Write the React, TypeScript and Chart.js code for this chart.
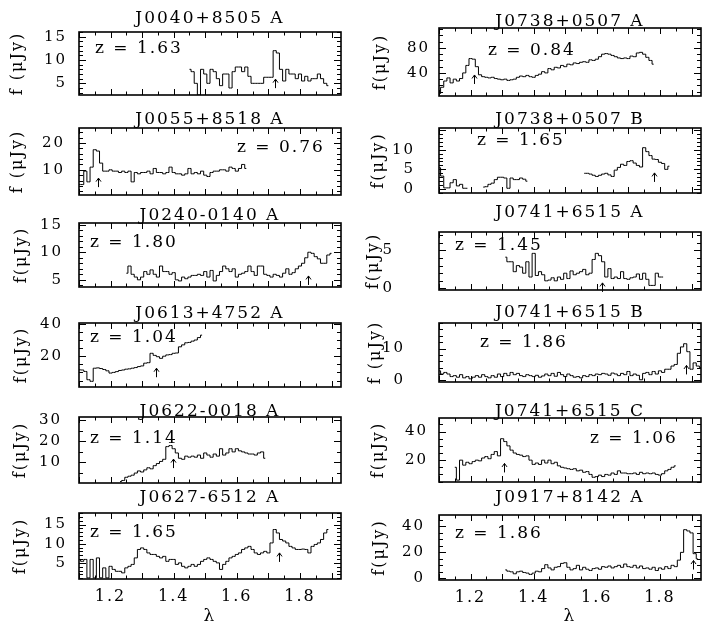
import { useEffect, useRef } from "react";
import { Chart, registerables } from "chart.js";
Chart.register(...registerables);

// ---------------- data ----------------
const objectNames = [
  "J0040+8505 A", "J0738+0507 A",
  "J0055+8518 A", "J0738+0507 B",
  "J0240-0140 A", "J0741+6515 A",
  "J0613+4752 A", "J0741+6515 B",
  "J0622-0018 A", "J0741+6515 C",
  "J0627-6512 A", "J0917+8142 A",
];
const redshifts = ["1.63", "0.84", "0.76", "1.65", "1.80", "1.45", "1.04", "1.86", "1.14", "1.06", "1.65", "1.86"];
const yTitles = ["f (μJy)", "f(μJy)", "f (μJy)", "f(μJy)", "f(μJy)", "f(μJy)", "f(μJy)", "f (μJy)", "f(μJy)", "f(μJy)", "f(μJy)", "f(μJy)"];

// arrow markers (wavelength, flux at arrow tip)
const markerLambda = [1.72, 1.211, 1.159, 1.781, 1.826, 1.616, 1.344, 1.882, 1.399, 1.306, 1.735, 1.904];
const markerFlux = [5.9, 36.7, 6.9, 4.1, 5.7, 0.73, 12.6, 4.7, 11.6, 17.7, 7.6, 13.7];

// spectra: first bin wavelength and bin width
const specStart = [1.45, 1.10, 1.10, 1.10, 1.25, 1.31, 1.10, 1.10, 1.23, 1.15, 1.10, 1.31];
const binWidth = 0.01;

const flux_J0040 = [8, 7.5, 5, 2.5, 8, 7, 5, 8, 7.5, 6, 4.5, 7, 7, 4, 7.5, 8.5, 8.5, 7.5, 8.5, 6.5, 5, 5, 5, 5, 6.3, 6.3, 6.3, 12, 11.5, 8, 5.5, 8, 7, 7, 6, 7, 5.5, 6.5, 5.5, 6, 6, 7, 6, 5, 4.5];
const flux_J0738A = [7, 17, 27, 32, 24, 30, 27, 31, 40, 52, 63, 62, 50, 37, 34, 33, 32, 33, 31, 30, 29, 30, 28, 29, 30, 33, 35, 34, 36, 34, 33, 36, 38, 42, 40, 47, 45, 49, 48, 52, 50, 54, 53, 56, 55, 57, 58, 57, 61, 60, 62, 66, 70, 71, 70, 68, 66, 64, 63, 64, 63, 67, 66, 72, 73, 70, 65, 60, 54];
const flux_J0055 = [4.5, 4.5, 9.5, 5.5, 11, 17.5, 17, 12.5, 9.5, 9.5, 10, 9.5, 9.5, 9, 9.5, 9, 9.5, 5.5, 9, 8.5, 9, 9, 9.5, 8.5, 10.5, 9, 9, 8.5, 9, 11, 9, 8.5, 8.5, 8, 8.5, 10.5, 8.5, 9, 8.5, 9.5, 8, 7.5, 9, 9.5, 9.5, 10, 10, 9.5, 11, 10.5, 9.5, 10.5, 12, 10.5];
const flux_J0738B = [5.4, 3.3, 0.3, 0.3, 1.6, 2.4, 0.8, 1.2, 0.2, 0.2, null, null, null, null, 0.5, 0.6, 1.2, 1.5, 2.4, 3.0, 3.0, 2.8, 0.2, 2.8, 2.4, 2.4, 2.8, 2.5, 2.0, null, null, null, null, null, null, null, null, null, null, null, null, null, null, null, null, null, 4.0, 4.0, 3.8, 3.5, 3.2, 3.5, 3.8, 4.0, 3.6, 3.2, 4.8, 5.5, 6.3, 6.0, 7.0, 7.2, 6.6, 6.0, 5.6, 10.5, 9.5, 8.5, 7.6, 7.5, 6.8, 6.5, 5.0, 5.8];
const flux_J0240 = [6.2, 7.5, 6.0, 5.5, 5.0, 5.5, 6.5, 6.0, 6.8, 6.0, 5.5, 7.5, 6.5, 6.5, 6.0, 6.3, 5.0, 4.8, 5.5, 5.2, 5.5, 5.8, 5.8, 6.0, 5.8, 6.5, 5.5, 6.7, 4.8, 5.8, 6.5, 7.5, 7.0, 6.5, 7.0, 5.5, 6.0, 6.2, 6.5, 7.5, 6.5, 5.8, 7.5, 7.5, 6.0, 5.8, 5.5, 6.0, 5.8, 5.5, 6.2, 7.0, 6.0, 6.3, 7.0, 7.5, 8.0, 9.0, 10.0, 9.8, 9.2, 8.8, 8.0, 8.0, 9.5, 9.8];
const flux_J0741A = [4.1, 3.5, 3.5, 2.2, 3.0, 2.8, 2.0, 3.5, 1.5, 4.6, 1.7, 2.2, 1.8, 1.0, 1.1, 1.4, 1.0, 1.5, 1.2, 2.0, 1.3, 2.3, 1.8, 2.0, 2.2, 2.5, 1.8, 2.0, 3.8, 4.6, 4.3, 3.5, 1.5, 2.6, 1.3, 1.5, 1.3, 2.2, 1.3, 1.2, 1.4, 1.5, 1.9, 1.2, 2.0, 1.2, 0.4, 0.4, 2.0, 1.5, 1.5];
const flux_J0613 = [11.6, 11.5, 10.6, 5.5, 4.5, 12.6, 12.8, 12.4, 11.8, 11, 9.6, 10, 10.5, 11.2, 11.5, 12, 12.2, 12.6, 13, 13.6, 14, 15.7, 16, 21.8, 20.5, 19.7, 18.7, 20, 20.8, 21, 21.8, 22, 25.8, 27, 28.3, 28.5, 29.3, 30, 31.5, 33];
const flux_J0741B = [3.0, 2.0, 2.5, 2.0, 1.2, 1.5, 1.0, 1.8, 0.8, 1.2, 0.5, 1.0, 1.5, 1.0, 1.8, 1.2, 0.8, 1.5, 1.0, 2.0, 1.2, 2.2, 1.5, 2.5, 1.8, 2.2, 1.5, 1.2, 1.8, 1.5, 1.2, 1.6, 1.0, 1.4, 2.0, 1.5, 2.2, 1.3, 2.5, 1.8, 1.2, 2.0, 1.5, 1.0, 1.2, 0.8, 1.5, 1.2, 1.8, 1.5, 2.0, 1.8, 2.2, 2.0, 1.6, 2.3, 2.0, 1.5, 2.2, 1.8, 2.8, 1.5, 2.0, 1.6, 0.2, 2.2, 2.5, 1.8, 2.8, 2.0, 3.0, 2.5, 3.5, 3.5, 4.5, 5.0, 8.5, 10.5, 11.5, 9.0, 3.5, 5.5, 4.5, 4.0];
const flux_J0622 = [1.0, 1.5, 3.0, 3.5, 4.0, 5.0, 6.0, 5.5, 6.5, 7.5, 7.0, 8.5, 9.5, 10.5, 11.5, 17.5, 18.0, 16.5, 14.5, 12.0, 11.5, 13.0, 12.5, 13.0, 12.5, 13.5, 12.0, 14.5, 13.5, 12.5, 14.0, 13.0, 16.5, 13.5, 14.5, 16.5, 15.0, 16.5, 15.5, 15.0, 14.5, 14.0, 14.0, 13.5, 14.5, 15.0, 12.0];
const flux_J0741C = [15, 6, 20, 16.5, 18.5, 17.5, 19, 20, 19.5, 21.5, 22.5, 21, 24, 26, 23, 35, 33, 30, 27, 25, 24, 23.5, 22.5, 23, 20, 17, 18, 17, 20, 18, 20, 17.5, 18.5, 16, 15, 14.5, 14, 13.5, 14, 12.5, 13, 11.5, 12, 10, 8, 8.5, 9.5, 8.5, 10, 9.5, 11, 10, 12.5, 11, 11, 10.5, 10.5, 11, 10, 11.5, 10.5, 11, 10.5, 11, 10, 9.5, 10.5, 12.5, 13.5, 15, 16];
const flux_J0627 = [5.9, 5.4, 5.9, 1.1, 5.9, 1.1, 6.3, 1.1, 3.7, 1.1, 4.1, 3.3, 2.8, 2.8, 2.4, 3.7, 4.1, 4.6, 6.3, 8.5, 8.9, 8.5, 7.6, 7.2, 7.2, 6.7, 6.3, 6.7, 5.4, 5.9, 5.9, 4.6, 5.0, 4.1, 3.7, 4.1, 4.6, 4.1, 4.6, 5.4, 5.9, 6.3, 5.9, 5.4, 5.0, 3.3, 4.6, 5.4, 6.3, 6.7, 7.2, 7.6, 8.5, 8.9, 9.3, 8.5, 7.6, 7.2, 7.6, 8.0, 7.6, 10.2, 13.7, 12.8, 11.1, 10.7, 10.2, 9.3, 8.9, 8.5, 8.5, 8.6, 8.5, 7.6, 9.3, 9.8, 10.2, 11.1, 12.8, 13.7];
const flux_J0917 = [6.5, 5.5, 5.0, 3.5, 5.0, 5.5, 4.5, 4.0, 3.0, 4.0, 5.5, 5.0, 7.5, 10.5, 8.0, 6.5, 8.5, 9.0, 11.5, 12.0, 8.5, 6.5, 7.5, 10.0, 6.5, 8.5, 7.0, 6.0, 7.5, 8.0, 7.0, 9.0, 8.5, 9.5, 8.0, 9.0, 10.0, 8.5, 11.0, 9.0, 8.5, 10.0, 8.0, 9.5, 7.5, 8.0, 7.0, 8.5, 6.0, 8.0, 7.0, 9.0, 7.5, 10.0, 9.0, 14.0, 20.0, 37.5, 36.5, 35.0, 19.0, 15.0];

const fluxes: (number | null)[][] = [
  flux_J0040, flux_J0738A, flux_J0055, flux_J0738B, flux_J0240, flux_J0741A,
  flux_J0613, flux_J0741B, flux_J0622, flux_J0741C, flux_J0627, flux_J0917,
];

// axes
const xRange = [1.1, 1.93];
const xTickLabels = [1.2, 1.4, 1.6, 1.8];
const xMinorStep = 0.05;
const xMajorEvery = 2;
const yRanges = [[2.5, 16], [3, 112], [0.6, 25.6], [-1, 15.5], [3.7, 15.3], [-0.2, 7.4], [1, 40.5], [-0.5, 18], [0.3, 31.5], [4.7, 49.5], [0.8, 18], [-1.3, 48.8]];
const yTickLabels = [[5, 10, 15], [40, 80], [10, 20], [0, 5, 10], [5, 10, 15], [0, 5], [20, 40], [0, 10], [10, 20, 30], [20, 40], [5, 10, 15], [0, 20, 40]];
const yMinorStep = [1, 10, 2, 1, 1, 1, 5, 2, 5, 5, 1, 5];
const yMajorStep = [5, 40, 10, 5, 5, 5, 20, 10, 10, 20, 5, 20];

// ---------------- layout / style ----------------
const FONT = "'DejaVu Serif', 'Liberation Serif', serif";
const INK = "#000";
const SPACING = "2px";
const COLS = [
  { left: 0, width: 350, frameLeft: 79, frameRight: 341 },
  { left: 350, width: 353, frameLeft: 439, frameRight: 701 },
];
// titleC, frameTop, frameBottom, zDx, zDy, yTickPad, yTitleC
const LAYOUT = [
  [18.5, 32, 95, 16, 21, 12, 17.5],
  [21.5, 28, 96, 49, 27, 9, 380.5],
  [119, 128, 195, 158, 24, 14, 17.5],
  [119, 128, 193, 38, 17, 24, 379],
  [215, 223, 287, 11, 24, 16, 22],
  [212, 232, 290, 16, 18, 45, 374],
  [313, 323, 387, 11, 19, 16, 22],
  [312.5, 323, 382, 41, 24, 34, 376],
  [411, 417, 483, 11, 26, 17, 21],
  [411, 418, 482, 151, 25, 11, 379],
  [497, 513, 579, 11, 24, 12, 21],
  [497, 515, 580, 16, 23, 14, 380],
];
const TITLE_SIZE = 17;
const PAGE_BOTTOM = 630;

function Panel({ i }: { i: number }) {
  const ref = useRef<HTMLCanvasElement>(null);
  const col = COLS[i % 2];
  const [titleC, frameTop, frameBottom, zDx, zDy, yTickPad, yTitleC] = LAYOUT[i];
  const isBottom = i >= 10;
  const canvasTop = Math.round(titleC - TITLE_SIZE / 2);
  const canvasBottom = isBottom ? PAGE_BOTTOM : frameBottom + 4;
  const height = canvasBottom - canvasTop;

  useEffect(() => {
    const pts = fluxes[i].map((v, k) => ({ x: +(specStart[i] + k * binWidth).toFixed(3), y: v }));
    const [ymin, ymax] = yRanges[i];
    const pgPlugin = {
      id: "pgframe",
      beforeDraw(chart: any) {
        chart.ctx.letterSpacing = SPACING;
      },
      afterDraw(chart: any) {
        const { ctx, chartArea: a, scales } = chart;
        const xs = scales.x, ys = scales.y;
        ctx.save();
        ctx.letterSpacing = SPACING;
        ctx.strokeStyle = INK;
        ctx.lineWidth = 1.6;
        ctx.strokeRect(a.left, a.top, a.right - a.left, a.bottom - a.top);
        ctx.lineWidth = 1;
        ctx.beginPath();
        for (let k = Math.ceil(xRange[0] / xMinorStep - 1e-6); k * xMinorStep <= xRange[1] + 1e-6; k++) {
          const px = Math.round(xs.getPixelForValue(k * xMinorStep)) + 0.5;
          const len = k % xMajorEvery === 0 ? 6 : 3.5;
          ctx.moveTo(px, a.bottom);
          ctx.lineTo(px, a.bottom - len);
          ctx.moveTo(px, a.top);
          ctx.lineTo(px, a.top + len);
        }
        const m = yMinorStep[i];
        const r = Math.round(yMajorStep[i] / m);
        for (let k = Math.ceil(ymin / m - 1e-6); k * m <= ymax + 1e-6; k++) {
          const py = Math.round(ys.getPixelForValue(k * m)) + 0.5;
          const len = ((k % r) + r) % r === 0 ? 7 : 4;
          ctx.moveTo(a.left, py);
          ctx.lineTo(a.left + len, py);
          ctx.moveTo(a.right, py);
          ctx.lineTo(a.right - len, py);
        }
        // arrow marker
        const ax = Math.round(xs.getPixelForValue(markerLambda[i])) + 0.5;
        const ay = ys.getPixelForValue(markerFlux[i]);
        ctx.moveTo(ax, ay);
        ctx.lineTo(ax, ay + 9);
        ctx.moveTo(ax - 2.5, ay + 3.5);
        ctx.lineTo(ax, ay);
        ctx.lineTo(ax + 2.5, ay + 3.5);
        ctx.stroke();
        // redshift label
        ctx.fillStyle = INK;
        ctx.font = `17px ${FONT}`;
        ctx.textAlign = "left";
        ctx.textBaseline = "alphabetic";
        ctx.fillText(`z = ${redshifts[i]}`, a.left + zDx, a.top + zDy);
        ctx.restore();
      },
    };

    const chart = new Chart(ref.current as HTMLCanvasElement, {
      type: "line",
      data: {
        datasets: [
          {
            data: pts as any,
            borderColor: INK,
            borderWidth: 1,
            pointRadius: 0,
            stepped: "middle",
            spanGaps: false,
            fill: false,
          },
        ],
      },
      options: {
        animation: false,
        responsive: false,
        events: [],
        layout: { padding: { left: 0, top: 0, bottom: 0, right: col.width - (col.frameRight - col.left) } },
        plugins: {
          legend: { display: false },
          tooltip: { enabled: false },
          title: {
            display: true,
            text: objectNames[i],
            fullSize: false,
            color: INK,
            font: { family: FONT, size: TITLE_SIZE, lineHeight: 1, weight: "normal" },
            padding: { top: 0, bottom: frameTop - canvasTop - TITLE_SIZE },
          },
        },
        scales: {
          x: {
            type: "linear",
            min: xRange[0],
            max: xRange[1],
            grid: { display: false, drawTicks: false },
            border: { display: false },
            ticks: {
              display: isBottom,
              color: INK,
              font: { family: FONT, size: 16, lineHeight: 1 },
              padding: 9.5,
              maxRotation: 0,
              autoSkip: false,
              callback: (v: any) => Number(v).toFixed(1),
            },
            afterBuildTicks: (ax: any) => {
              ax.ticks = xTickLabels.map((v) => ({ value: v }));
            },
            afterFit: (ax: any) => {
              ax.height = canvasBottom - frameBottom;
              ax.paddingLeft = 0;
              ax.paddingRight = 0;
            },
            title: {
              display: isBottom,
              text: "λ",
              color: INK,
              font: { family: FONT, size: 17, lineHeight: 1 },
              padding: { top: 0, bottom: PAGE_BOTTOM - 617 - 8.5 },
            },
          },
          y: {
            type: "linear",
            min: ymin,
            max: ymax,
            grid: { display: false, drawTicks: false },
            border: { display: false },
            ticks: {
              color: INK,
              font: { family: FONT, size: 15, lineHeight: 1 },
              padding: yTickPad,
              autoSkip: false,
            },
            afterBuildTicks: (ax: any) => {
              ax.ticks = yTickLabels[i].map((v) => ({ value: v }));
            },
            afterFit: (ax: any) => {
              ax.width = col.frameLeft - col.left;
              ax.paddingTop = 0;
              ax.paddingBottom = 0;
            },
            title: {
              display: true,
              text: yTitles[i],
              color: INK,
              font: { family: FONT, size: 16, lineHeight: 1 },
              padding: { top: yTitleC - col.left - 8, bottom: 0 },
            },
          },
        },
      } as any,
      plugins: [pgPlugin as any],
    });
    return () => chart.destroy();
  }, []);

  return (
    <canvas
      ref={ref}
      width={col.width}
      height={height}
      style={{ position: "absolute", left: col.left, top: canvasTop, width: col.width, height }}
    />
  );
}

export default function App() {
  return (
    <div
      style={{
        position: "absolute",
        left: 0,
        top: 0,
        width: 703,
        height: 623,
        overflow: "hidden",
        background: "#fff",
      }}
    >
      {objectNames.map((_, i) => (
        <Panel key={i} i={i} />
      ))}
    </div>
  );
}
